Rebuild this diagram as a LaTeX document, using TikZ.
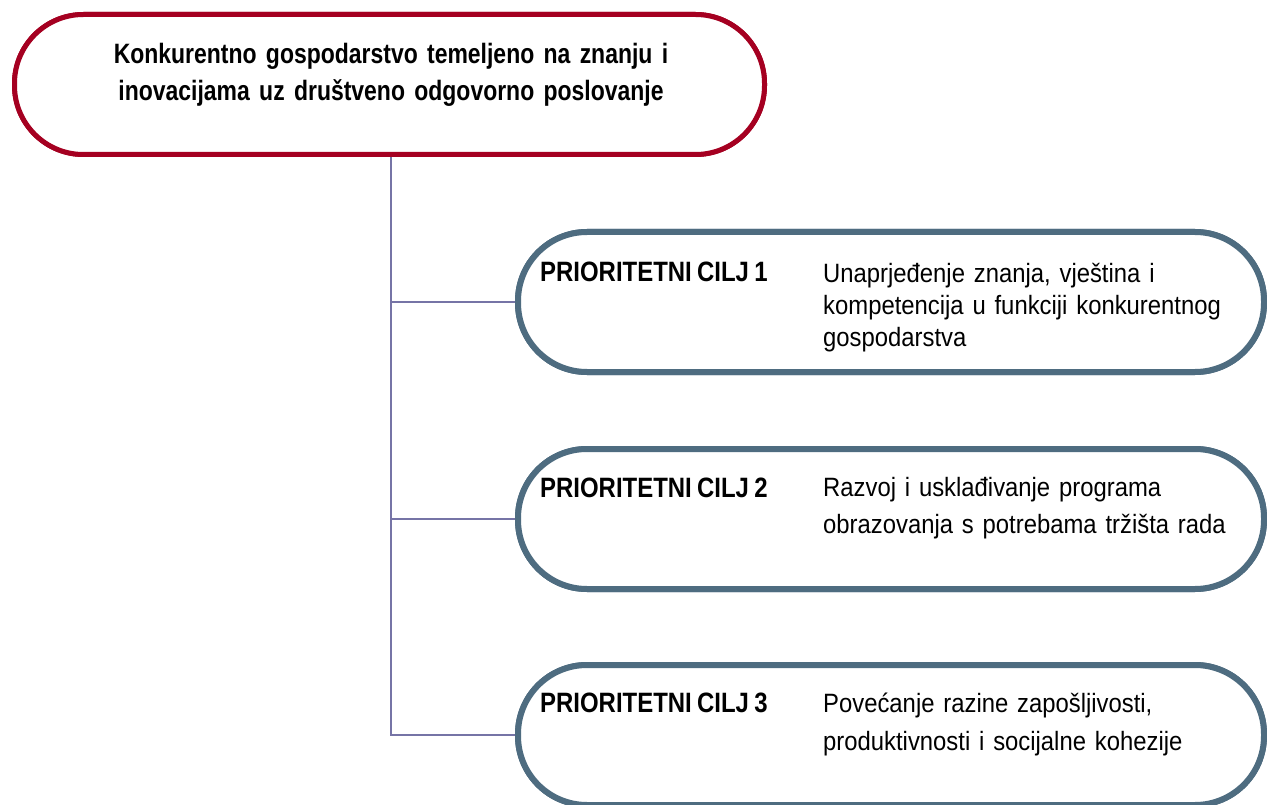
\documentclass[tikz,border=0pt]{standalone}
\usepackage{fontspec}
\setmainfont{Liberation Sans}
\newfontfamily\narrowbold[FakeStretch=0.855,WordSpace=0.8]{Liberation Sans Bold}
\newfontfamily\narrowtop[FakeStretch=0.82,WordSpace=0.8]{Liberation Sans Bold}
\newfontfamily\narrowreg[FakeStretch=0.9,WordSpace=0.85]{Liberation Sans}
\definecolor{topred}{RGB}{165,0,33}
\definecolor{slate}{RGB}{78,108,128}
\definecolor{connc}{RGB}{118,116,166}
\begin{document}
\begin{tikzpicture}[x=1pt,y=-1pt,
  topbox/.style={draw=topred,line width=5pt,fill=white,rounded corners=69pt,
    minimum width=750pt,minimum height=140pt,inner sep=0pt},
  goalbox/.style={draw=slate,line width=6pt,fill=white,rounded corners=69pt,
    minimum width=746pt,minimum height=140pt,inner sep=0pt},
  conn/.style={draw=connc,line width=1.8pt},
  toptext/.style={font=\narrowtop\fontsize{28}{37}\selectfont,text width=640pt,
    align=center,inner sep=0pt,anchor=base},
  goallabel/.style={font=\narrowbold\fontsize{28}{30}\selectfont,inner sep=0pt,anchor=base west},
  goaltext/.style={font=\narrowreg\fontsize{26.5}{37}\selectfont,text width=430pt,align=left,
    inner sep=0pt,anchor=base west}]
\useasboundingbox[fill=white] (0,0) rectangle (1267,805);
% boxes (positions)
\coordinate (trunk) at (391,0);
\node[topbox] (top) at (389.5,84.5) {};
\node[goalbox] (b1) at (891,302) {};
\node[goalbox] (b2) at (891,519) {};
\node[goalbox] (b3) at (891,735) {};
% connectors
\draw[conn] (top.south -| trunk) |- (b3.west);
\draw[conn] (b1.west -| trunk) -- (b1.west);
\draw[conn] (b2.west -| trunk) -- (b2.west);
% redraw boxes over connector ends
\node[topbox] at (top) {};
\node[goalbox] at (b1) {};
\node[goalbox] at (b2) {};
\node[goalbox] at (b3) {};
% texts
\node[toptext] (toptx) at (391,64) {Konkurentno gospodarstvo temeljeno na znanju i\\inovacijama uz društveno odgovorno poslovanje};
\node[goallabel] (l1) at (540,282) {PRIORITETNI CILJ 1};
\node[goaltext,font=\narrowreg\fontsize{26.5}{32}\selectfont] (t1) at (823,283) {Unaprjeđenje znanja, vještina i\\kompetencija u funkciji konkurentnog\\gospodarstva};
\node[goallabel] (l2) at (540,497) {PRIORITETNI CILJ 2};
\node[goaltext,font=\narrowreg\fontsize{26.5}{37}\selectfont] (t2) at (823,496) {Razvoj i usklađivanje programa\\obrazovanja s potrebama tržišta rada};
\node[goallabel] (l3) at (540,712) {PRIORITETNI CILJ 3};
\node[goaltext,font=\narrowreg\fontsize{26.5}{38}\selectfont] (t3) at (823,712) {Povećanje razine zapošljivosti,\\produktivnosti i socijalne kohezije};
\end{tikzpicture}
\end{document}
